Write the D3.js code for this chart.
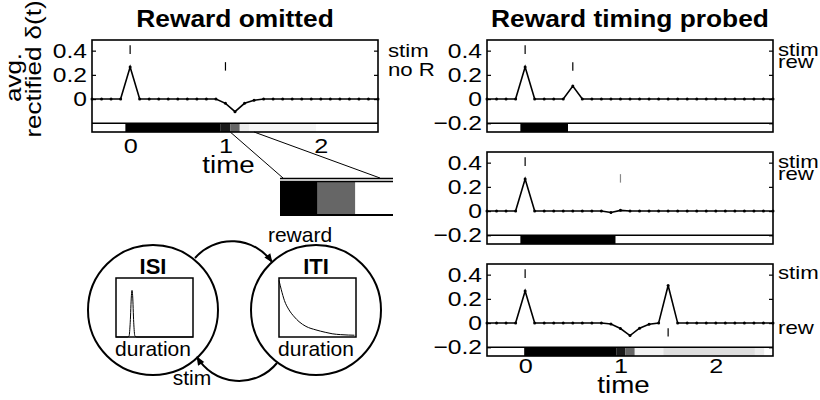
<!DOCTYPE html>
<html>
<head>
<meta charset="utf-8">
<script src="https://cdn.jsdelivr.net/npm/d3@7"></script>
<style>
  body { margin: 0; background: #fff; }
  text { font-family: "Liberation Sans", Arial, Helvetica, sans-serif; fill: #000; }
</style>
</head>
<body>
<svg id="fig" width="820" height="400"></svg>
<script>
// time base of the simulated trials (s), one sample every 0.1
const times = [-0.4, -0.3, -0.2, -0.1, 0.0, 0.1, 0.2, 0.3, 0.4, 0.5, 0.6, 0.7, 0.8, 0.9, 1.0,
               1.1, 1.2, 1.3, 1.4, 1.5, 1.6, 1.7, 1.8, 1.9, 2.0, 2.1, 2.2, 2.3, 2.4, 2.5, 2.6];

// average rectified prediction error delta(t)
const deltaOmitted = [0, 0, 0, 0, 0.265, 0, 0, 0, 0, 0, 0, 0, 0, 0, -0.035,
                      -0.104, -0.035, -0.01, 0, 0, 0, 0, 0, 0, 0, 0, 0, 0, 0, 0, 0];
const deltaEarly   = [0, 0, 0, 0, 0.265, 0, 0, 0, 0, 0.108, 0, 0, 0, 0, 0,
                      0, 0, 0, 0, 0, 0, 0, 0, 0, 0, 0, 0, 0, 0, 0, 0];
const deltaOnTime  = [0, 0, 0, 0, 0.265, 0, 0, 0, 0, 0, 0, 0, 0, -0.012, 0.006,
                      0, 0, 0, 0, 0, 0, 0, 0, 0, 0, 0, 0, 0, 0, 0, 0];
const deltaLate    = [0, 0, 0, 0, 0.265, 0, 0, 0, 0, 0, 0, 0, 0, -0.008, -0.045,
                      -0.103, -0.042, -0.01, 0, 0.31, 0, 0, 0, 0, 0, 0, 0, 0, 0, 0, 0];

// belief in the ISI state along time: [from, to, grey level 0..255]
const stateOmitted = [[-0.4, -0.05, 255], [-0.05, 0.95, 0], [0.95, 1.05, 26], [1.05, 1.15, 102],
                      [1.15, 1.25, 236], [1.25, 1.95, 245], [1.95, 2.6, 255]];
const stateEarly   = [[-0.4, -0.05, 255], [-0.05, 0.45, 0], [0.45, 2.6, 255]];
const stateOnTime  = [[-0.4, -0.05, 255], [-0.05, 0.95, 0], [0.95, 2.6, 255]];
const stateLate    = [[-0.4, -0.01, 255], [-0.01, 0.96, 0], [0.96, 1.05, 26], [1.05, 1.15, 102],
                      [1.15, 1.45, 242], [1.45, 2.41, 222], [2.41, 2.51, 236], [2.51, 2.6, 255]];
// magnified part of the reward-omitted state bar
const stateZoom    = [[0.95, 1.05, 0], [1.05, 1.15, 102], [1.15, 1.25, 255]];

// event times: stimulus and reward (or omitted reward)
const eventsOmitted = [{t: 0, kind: "stim"}, {t: 1.0, kind: "rew"}];
const eventsEarly   = [{t: 0, kind: "stim"}, {t: 0.5, kind: "rew"}];
const eventsOnTime  = [{t: 0, kind: "stim"}, {t: 1.0, kind: "rew", grey: true}];
const eventsLate    = [{t: 0, kind: "stim"}, {t: 1.5, kind: "low"}];

const yTicksLeft  = [0.4, 0.2, 0];
const yTicksRight = [0.4, 0.2, 0, -0.2];
const xTicks = [0, 1, 2];

// state-duration densities drawn inside the state circles (duration 0..1, density 0..1)
const isiDuration = [0, 0.15, 0.17, 0.185, 0.2, 0.208, 0.216, 0.23, 0.245, 0.27, 1];
const isiDensity  = [0, 0, 0.02, 0.25, 0.7, 0.79, 0.7, 0.25, 0.02, 0, 0];
const itiDuration = [0, 0.03, 0.07, 0.13, 0.2, 0.26, 0.35, 0.48, 0.6, 0.69, 0.8, 0.9, 0.98];
const itiDensity  = [0.96, 0.8, 0.62, 0.46, 0.34, 0.26, 0.18, 0.12, 0.08, 0.055, 0.04, 0.033, 0.03];

const svg = d3.select("#fig");
const W = 286, H = 92;
const x = d3.scaleLinear().domain([-0.4, 2.6]).range([0, W]);
const y = d3.scaleLinear().domain([-0.272, 0.488]).range([H, 0]);
const grey = v => d3.rgb(v, v, v).toString();

// the plot lettering is set wide: stretch each text along its baseline by factor k
function widen(sel, k) {
  sel.each(function () {
    const w = this.getComputedTextLength();
    d3.select(this).attr("textLength", w * k).attr("lengthAdjust", "spacingAndGlyphs");
  });
  return sel;
}

// arrowheads for the state-transition arcs
svg.append("defs").append("marker")
  .attr("id", "head").attr("viewBox", "0 0 10 10").attr("refX", 9).attr("refY", 5)
  .attr("markerWidth", 10).attr("markerHeight", 9).attr("markerUnits", "userSpaceOnUse")
  .attr("orient", "auto")
  .append("path").attr("d", "M0,1 L10,5 L0,9 Z").attr("fill", "#000");

const TICK_FS = 20.5, TICK_K = 1.2;
const LAB_FS = 18.5, LAB_K = 1.2;

function drawPanel(o) {
  const g = svg.append("g").attr("transform", `translate(${o.left},${o.top})`);

  // state bar along the bottom of the axes
  g.selectAll("rect.state").data(o.states).join("rect").attr("class", "state")
    .attr("x", d => x(d[0])).attr("width", d => x(d[1]) - x(d[0]))
    .attr("y", y(-0.2)).attr("height", y(-0.272) - y(-0.2))
    .attr("fill", d => grey(d[2]));
  g.append("line").attr("x1", 0).attr("x2", W).attr("y1", y(-0.2)).attr("y2", y(-0.2))
    .attr("stroke", "#000").attr("stroke-width", 1.5);

  // event markers
  const rows = {stim: [0.445, 0.372], rew: [0.305, 0.235], low: [-0.042, -0.11]};
  g.selectAll("line.ev").data(o.events).join("line").attr("class", "ev")
    .attr("x1", d => x(d.t)).attr("x2", d => x(d.t))
    .attr("y1", d => y(rows[d.kind][0])).attr("y2", d => y(rows[d.kind][1]))
    .attr("stroke", d => d.grey ? "#888" : "#000").attr("stroke-width", 1.2);

  // delta(t) trace with sample dots
  const pts = times.map((t, i) => [t, o.values[i]]);
  g.append("path").datum(pts)
    .attr("d", d3.line().x(d => x(d[0])).y(d => y(d[1])))
    .attr("fill", "none").attr("stroke", "#000").attr("stroke-width", 1.6);
  g.selectAll("circle.pt").data(pts).join("circle").attr("class", "pt")
    .attr("cx", d => x(d[0])).attr("cy", d => y(d[1])).attr("r", 1.5).attr("fill", "#000");

  // axes box with inward ticks on both sides
  const fmt = d => d === 0 ? "0" : d3.format(".1f")(d);
  const left = g.append("g").call(d3.axisLeft(y).tickValues(o.ticks).tickSize(-4).tickPadding(5).tickFormat(fmt));
  left.select(".domain").remove();
  widen(left.selectAll("text").attr("font-size", TICK_FS).attr("font-family", null), TICK_K);
  const right = g.append("g").attr("transform", `translate(${W},0)`)
    .call(d3.axisRight(y).tickValues(o.ticks).tickSize(-4).tickFormat(""));
  right.select(".domain").remove();
  g.selectAll(".tick line").attr("stroke", "#000").attr("stroke-width", 1.2);
  g.append("rect").attr("width", W).attr("height", H)
    .attr("fill", "none").attr("stroke", "#000").attr("stroke-width", 1.6);

  if (o.xAxis) {
    const bottom = g.append("g").attr("transform", `translate(0,${H})`)
      .call(d3.axisBottom(x).tickValues(xTicks).tickSize(0).tickPadding(o.xPad).tickFormat(d3.format("d")));
    bottom.select(".domain").remove();
    widen(bottom.selectAll("text").attr("font-size", TICK_FS + 0.5).attr("font-family", null), TICK_K);
    widen(g.append("text").attr("x", x(1) + 3).attr("y", H + o.timeY).attr("text-anchor", "middle")
      .attr("font-size", 23.5).text("time"), 1.18);
  }

  // event legend on the right
  widen(g.selectAll("text.lab").data(o.labels).join("text").attr("class", "lab")
    .attr("x", W + o.labDx).attr("y", d => d[1]).attr("font-size", LAB_FS).text(d => d[0]), LAB_K);
  return g;
}

drawPanel({left: 92, top: 40, values: deltaOmitted, states: stateOmitted, events: eventsOmitted,
  ticks: yTicksLeft, xAxis: true, xPad: 6.5, timeY: 41, labDx: 10, labels: [["stim", 17], ["no R", 36]]});
drawPanel({left: 487, top: 40, values: deltaEarly, states: stateEarly, events: eventsEarly,
  ticks: yTicksRight, xAxis: false, labDx: 5, labels: [["stim", 16], ["rew", 28]]});
drawPanel({left: 487, top: 152, values: deltaOnTime, states: stateOnTime, events: eventsOnTime,
  ticks: yTicksRight, xAxis: false, labDx: 5, labels: [["stim", 16], ["rew", 28]]});
drawPanel({left: 487, top: 264, values: deltaLate, states: stateLate, events: eventsLate,
  ticks: yTicksRight, xAxis: true, xPad: 2, timeY: 37, labDx: 5, labels: [["stim", 15], ["rew", 70]]});

// titles
widen(svg.append("text").attr("x", 235).attr("y", 27).attr("text-anchor", "middle")
  .attr("font-size", 23.5).attr("font-weight", "bold").text("Reward omitted"), 1.12);
widen(svg.append("text").attr("x", 630).attr("y", 27).attr("text-anchor", "middle")
  .attr("font-size", 23.5).attr("font-weight", "bold").text("Reward timing probed"), 1.12);

// y label, two rotated lines
const yl = svg.append("g");
widen(yl.append("g").attr("transform", "translate(20.5,77.5) rotate(-90)")
  .append("text").attr("text-anchor", "middle").attr("font-size", 22).text("avg."), 1.18);
widen(yl.append("g").attr("transform", "translate(40.5,69) rotate(-90)")
  .append("text").attr("text-anchor", "middle").attr("font-size", 22).text("rectified δ(t)"), 1.18);

// magnified view of the state bar around the omitted reward
const zx = d3.scaleLinear().domain([0.95, 1.25]).range([280, 393]);
const zoomG = svg.append("g");
zoomG.append("line").attr("x1", 92 + x(1.05)).attr("y1", 132).attr("x2", 283).attr("y2", 178)
  .attr("stroke", "#000").attr("stroke-width", 1);
zoomG.append("line").attr("x1", 92 + x(1.3)).attr("y1", 132).attr("x2", 380).attr("y2", 178)
  .attr("stroke", "#000").attr("stroke-width", 1);
zoomG.selectAll("rect").data(stateZoom).join("rect")
  .attr("x", d => zx(d[0])).attr("width", d => zx(d[1]) - zx(d[0]))
  .attr("y", 181).attr("height", 34).attr("fill", d => grey(d[2]));
zoomG.append("line").attr("x1", 280).attr("x2", 393).attr("y1", 178.5).attr("y2", 178.5)
  .attr("stroke", "#000").attr("stroke-width", 1.5);
zoomG.append("line").attr("x1", 280).attr("x2", 393).attr("y1", 181.5).attr("y2", 181.5)
  .attr("stroke", "#000").attr("stroke-width", 1.5);
zoomG.append("line").attr("x1", 280).attr("x2", 393).attr("y1", 215).attr("y2", 215)
  .attr("stroke", "#000").attr("stroke-width", 2);

// semi-Markov state diagram
const states = [
  {name: "ISI", cx: 153, dur: isiDuration, dens: isiDensity},
  {name: "ITI", cx: 316, dur: itiDuration, dens: itiDensity}
];
const cy = 310, R = 65;
states.forEach(s => {
  const g = svg.append("g");
  g.append("circle").attr("cx", s.cx).attr("cy", cy).attr("r", R)
    .attr("fill", "none").attr("stroke", "#000").attr("stroke-width", 2);
  g.append("text").attr("x", s.cx).attr("y", 274).attr("text-anchor", "middle")
    .attr("font-size", 22).attr("font-weight", "bold").text(s.name);
  const bx = d3.scaleLinear().domain([0, 1]).range([s.cx - 37, s.cx + 40]);
  const by = d3.scaleLinear().domain([0, 1]).range([337, 278]);
  g.append("rect").attr("x", bx(0)).attr("y", by(1)).attr("width", bx(1) - bx(0)).attr("height", by(0) - by(1))
    .attr("fill", "#fff").attr("stroke", "#000").attr("stroke-width", 1.5);
  g.append("path").datum(s.dur.map((d, i) => [d, s.dens[i]]))
    .attr("d", d3.line().x(d => bx(d[0])).y(d => by(d[1])).curve(d3.curveMonotoneX))
    .attr("fill", "none").attr("stroke", "#000").attr("stroke-width", 1);
  g.append("text").attr("x", s.cx).attr("y", 356).attr("text-anchor", "middle")
    .attr("font-size", 21).text("duration");
});

// transitions
svg.append("path").attr("d", "M195,258 A49,49 0 0,1 272,262")
  .attr("fill", "none").attr("stroke", "#000").attr("stroke-width", 2).attr("marker-end", "url(#head)");
svg.append("path").attr("d", "M277,363 A49,49 0 0,1 197,357")
  .attr("fill", "none").attr("stroke", "#000").attr("stroke-width", 2).attr("marker-end", "url(#head)");
svg.append("text").attr("x", 300).attr("y", 242).attr("text-anchor", "middle").attr("font-size", 21).text("reward");
svg.append("text").attr("x", 192).attr("y", 385).attr("text-anchor", "middle").attr("font-size", 21).text("stim");
</script>
</body>
</html>
